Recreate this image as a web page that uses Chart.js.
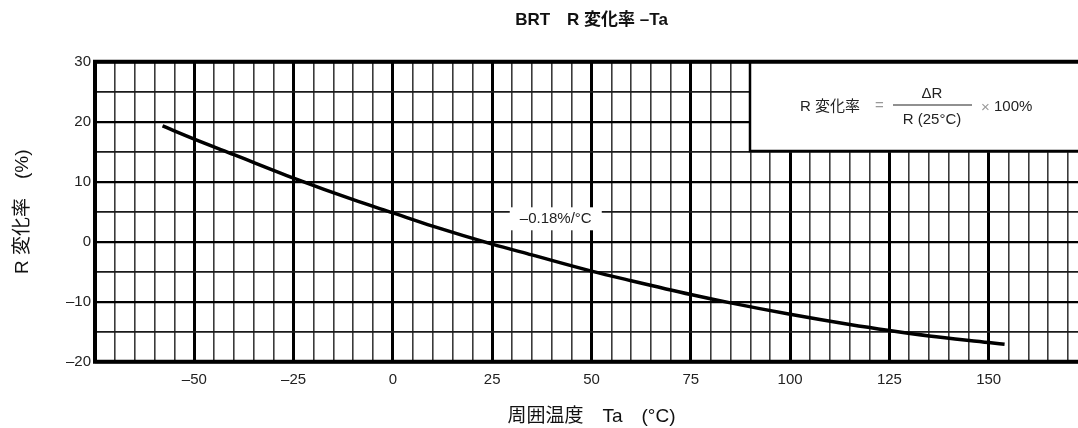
<!DOCTYPE html>
<html>
<head>
<meta charset="utf-8">
<script src="https://cdn.jsdelivr.net/npm/chart.js@4/dist/chart.umd.min.js"></script>
<style>
  html, body { margin: 0; padding: 0; background: #fff; overflow: hidden; }
  #wrap { position: relative; width: 1097px; height: 428px; }
</style>
</head>
<body>
<div id="wrap"><canvas id="c"></canvas></div>
<script>
// Ambient temperature (°C) and resistance change (%) along the curve
const temperatures = [-58, -50, -40, -25, -10, 0, 10, 25, 35, 50, 60, 75, 85, 100, 115, 125, 135, 150, 154];
const rChange = [19.3, 17.1, 14.5, 10.6, 7.0, 4.8, 2.6, -0.4, -2.2, -4.9, -6.5, -8.8, -10.2, -12.1, -13.8, -14.8, -15.7, -16.8, -17.1];

// Labelled ticks
const xTickLabels = [-50, -25, 0, 25, 50, 75, 100, 125, 150];
const yTickLabels = [-20, -10, 0, 10, 20, 30];

const FONT = '"Liberation Sans", Arial, "Noto Sans CJK JP", sans-serif';
const fmt = v => (v < 0 ? '\u2013' + Math.abs(v) : String(v));

// Formula box, slope note and the heavy frame on top of the grid
const overlay = {
  id: 'overlay',
  afterDraw(chart) {
    const { ctx, chartArea: a, scales: { x, y } } = chart;
    ctx.save();

    // formula box in the upper right corner
    const bx = Math.round(x.getPixelForValue(90));
    const by = Math.round(y.getPixelForValue(15)) - 1;
    ctx.fillStyle = '#fff';
    ctx.fillRect(bx, a.top, a.right - bx + 10, by - a.top);
    ctx.strokeStyle = '#000';
    ctx.lineWidth = 2.5;
    ctx.beginPath();
    ctx.moveTo(bx, a.top);
    ctx.lineTo(bx, by);
    ctx.lineTo(a.right + 10, by);
    ctx.stroke();

    ctx.fillStyle = '#222';
    ctx.textBaseline = 'middle';
    ctx.font = '15px ' + FONT;
    ctx.textAlign = 'left';
    ctx.fillText('R 変化率', bx + 50, by - 44);
    ctx.fillStyle = '#999';
    ctx.fillText('=', bx + 125, by - 45);
    ctx.fillStyle = '#222';
    ctx.textAlign = 'center';
    const fx = bx + 182;
    ctx.fillText('\u0394R', fx, by - 57);
    ctx.fillText('R (25°C)', fx, by - 31);
    ctx.strokeStyle = '#222';
    ctx.lineWidth = 1.2;
    ctx.beginPath();
    ctx.moveTo(bx + 143, by - 46);
    ctx.lineTo(bx + 222, by - 46);
    ctx.stroke();
    ctx.textAlign = 'left';
    ctx.fillStyle = '#999';
    ctx.fillText('\u00d7', bx + 231, by - 43);
    ctx.fillStyle = '#222';
    ctx.fillText('100%', bx + 244, by - 44);

    // slope note
    const lx = x.getPixelForValue(41);
    const ly = y.getPixelForValue(3.9);
    ctx.font = '15px ' + FONT;
    ctx.fillStyle = '#fff';
    ctx.fillRect(lx - 46, ly - 11, 92, 23);
    ctx.fillStyle = '#222';
    ctx.textAlign = 'center';
    ctx.fillText('\u20130.18%/°C', lx, ly + 1);

    // frame: top, left, bottom
    ctx.strokeStyle = '#000';
    ctx.lineWidth = 4;
    ctx.beginPath();
    ctx.moveTo(a.right + 10, a.top);
    ctx.lineTo(a.left, a.top);
    ctx.lineTo(a.left, a.bottom);
    ctx.lineTo(a.right + 10, a.bottom);
    ctx.stroke();
    ctx.restore();
  }
};

new Chart(document.getElementById('c'), {
  type: 'line',
  data: {
    datasets: [{
      data: temperatures.map((t, i) => ({ x: t, y: rChange[i] })),
      borderColor: '#000',
      borderWidth: 3.5,
      pointRadius: 0,
      fill: false,
      cubicInterpolationMode: 'monotone'
    }]
  },
  options: {
    responsive: true,
    maintainAspectRatio: false,
    animation: false,
    layout: { padding: { left: 0, right: 4, top: 0, bottom: 0 } },
    plugins: {
      legend: { display: false },
      tooltip: { enabled: false },
      title: {
        display: true,
        fullSize: false,
        text: 'BRT\u3000R 変化率 \u2013Ta',
        color: '#111',
        font: { family: FONT, size: 17, weight: 'bold' },
        padding: { top: 10, bottom: 31.3 }
      }
    },
    scales: {
      x: {
        type: 'linear',
        min: -75,
        max: 175,
        afterFit(s) { s.height = 66.3; },
        ticks: {
          stepSize: 5,
          autoSkip: false,
          maxRotation: 0,
          padding: 9,
          color: '#222',
          font: { family: FONT, size: 15 },
          callback: v => (xTickLabels.includes(v) ? fmt(v) : '')
        },
        grid: {
          drawTicks: false,
          color: ctx => (ctx.tick && ctx.tick.value % 25 === 0 ? '#000' : '#3a3a3a'),
          lineWidth: ctx => (ctx.tick && ctx.tick.value % 25 === 0 ? 3 : 1.6)
        },
        border: { display: false },
        title: {
          display: true,
          text: '周囲温度\u3000Ta\u3000(°C)',
          color: '#111',
          font: { family: FONT, size: 19 },
          padding: { top: 0, bottom: 0 }
        }
      },
      y: {
        min: -20,
        max: 30,
        afterFit(s) { s.width = 95; },
        ticks: {
          stepSize: 5,
          autoSkip: false,
          padding: 4,
          color: '#222',
          font: { family: FONT, size: 15 },
          callback: v => (yTickLabels.includes(v) ? fmt(v) : '')
        },
        grid: {
          drawTicks: false,
          color: ctx => (ctx.tick && ctx.tick.value % 10 === 0 ? '#000' : '#1a1a1a'),
          lineWidth: ctx => (ctx.tick && ctx.tick.value % 10 === 0 ? 2.2 : 1.8)
        },
        border: { display: false },
        title: {
          display: true,
          text: 'R 変化率\u3000(%)',
          color: '#111',
          font: { family: FONT, size: 19 },
          padding: { top: 11, bottom: 0 }
        }
      }
    }
  },
  plugins: [overlay]
});
</script>
</body>
</html>
